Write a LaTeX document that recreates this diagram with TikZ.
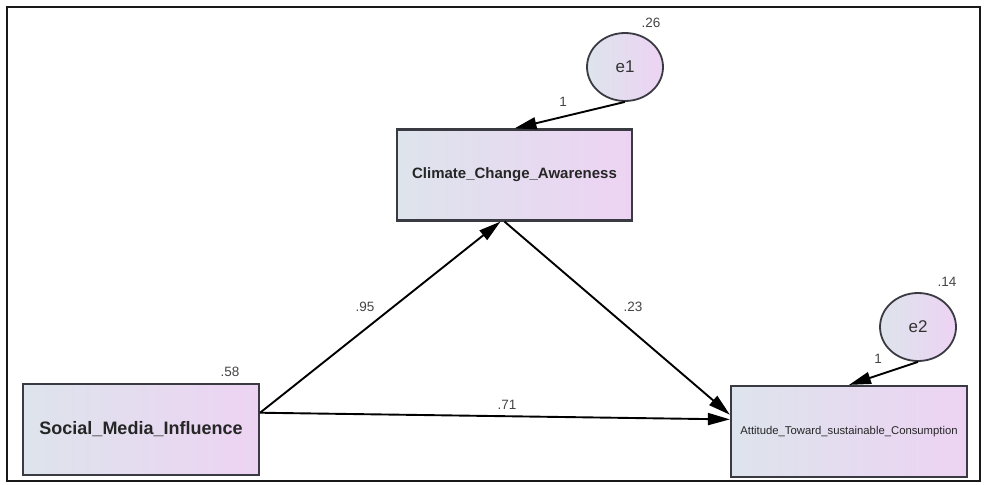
\documentclass[tikz,border=0pt]{standalone}
\usepackage{fontspec}
\setmainfont{Liberation Sans}
\usetikzlibrary{arrows.meta,shapes.geometric,calc}
\definecolor{fillL}{HTML}{DDE4EC}
\definecolor{fillR}{HTML}{EDD3F3}
\definecolor{edge}{HTML}{3A3A42}
\definecolor{numtxt}{HTML}{444444}
\tikzset{
  varbox/.style={draw=edge, line width=2.2pt, left color=fillL, right color=fillR,
    minimum width=236pt, minimum height=91pt, inner sep=0pt, text=black!85},
  errnode/.style={ellipse, draw=edge, line width=1.8pt, left color=fillL, right color=fillR,
    minimum width=76pt, minimum height=68pt, inner sep=0pt, text=black!80,
    font=\fontsize{17}{19}\selectfont},
  num/.style={text=numtxt, font=\fontsize{13.5}{15}\selectfont, inner sep=0pt},
  path/.style={line width=1.9pt, black, -{Triangle[length=22pt,width=12pt]}}
}
\begin{document}
\begin{tikzpicture}[x=1pt,y=-1pt]
\useasboundingbox (0,0) rectangle (984,484);
\draw[line width=2.5pt, black!90] (7,7) rectangle (980,481);
% nodes
\node[varbox, font=\fontsize{18}{20}\selectfont\bfseries] (smi) at (141,429.5) {Social\_Media\_Influence};
\node[varbox, minimum width=235pt, minimum height=91pt, font=\fontsize{15}{17}\selectfont\bfseries] (cca) at (514.5,175) {Climate\_Change\_Awareness};
\node[varbox, font=\fontsize{11.3}{13}\selectfont] (atsc) at (849,431.5) {Attitude\_Toward\_sustainable\_Consumption};
\node[errnode] (e1) at (625,67) {e1};
\node[errnode] (e2) at (918,327) {e2};
% connectors
\draw[path] (e1.south) -- (cca.north);
\draw[path] (e2.south) -- (atsc.north);
\coordinate (smiout) at ($(smi.north east)!0.32!(smi.south east)$);
\coordinate (ccain) at ($(cca.south)+(-14,0)$);
\coordinate (ccaout) at ($(cca.south)+(-10,0)$);
\coordinate (atscinA) at ($(atsc.north west)!0.32!(atsc.south west)$);
\coordinate (atscinB) at ($(atsc.north west)!0.37!(atsc.south west)$);
\draw[path] (smiout) -- (ccain);
\draw[path] (ccaout) -- (atscinA);
\draw[path] (smiout) -- (atscinB);
% labels
\node[num] (l58) at (230,372) {.58};
\node[num] (l26) at (651,23) {.26};
\node[num] (l14) at (947,282) {.14};
\node[num] (l95) at (365,307) {.95};
\node[num] (l23) at (633,307) {.23};
\node[num] (l71) at (507,405) {.71};
\node[num] (l1a) at (563,102) {1};
\node[num] (l1b) at (878,359) {1};
\end{tikzpicture}
\end{document}
